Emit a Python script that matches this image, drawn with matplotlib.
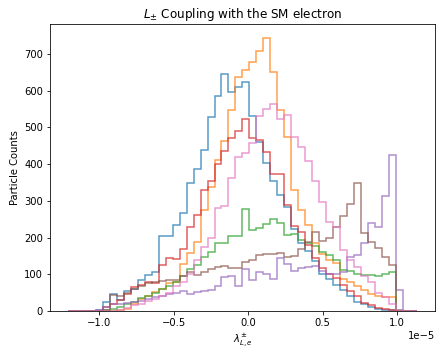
import numpy as np
import matplotlib
matplotlib.use('Agg')
import matplotlib.pyplot as plt

# bin edges of the shared histogram (units of coupling)
bin_lo = -1.2134e-5
bin_hi = 1.1356e-5
n_bins = 50

# counts per bin for each coupling sample
blue = [0, 0, 0, 0, 2, 25, 45, 30, 55, 60, 85, 98, 105, 203, 203, 234, 268, 348, 386, 439,
        528, 584, 644, 596, 609, 624, 532, 460, 403, 353, 316, 282, 224, 186, 162, 137, 100, 87, 70, 56,
        42, 25, 20, 12, 6, 2, 2, 1, 0, 0]
orange = [0, 0, 0, 0, 0, 0, 0, 3, 5, 19, 32, 42, 53, 59, 75, 78, 128, 159, 189, 274,
          337, 412, 462, 546, 637, 657, 677, 707, 744, 650, 548, 474, 330, 275, 235, 185, 155, 140, 130, 88,
          80, 68, 58, 45, 40, 38, 38, 0, 0, 0]
green = [0, 0, 0, 0, 0, 2, 5, 10, 20, 25, 35, 40, 50, 60, 68, 80, 95, 115, 125, 148,
         160, 184, 184, 205, 205, 277, 221, 225, 237, 251, 240, 207, 210, 192, 185, 176, 160, 152, 140, 112,
         108, 101, 98, 98, 95, 101, 107, 3, 0, 0]
red = [0, 0, 0, 0, 0, 10, 20, 30, 46, 66, 70, 80, 76, 125, 143, 142, 170, 228, 262, 330,
       355, 400, 435, 470, 490, 523, 470, 465, 432, 372, 372, 289, 232, 216, 180, 145, 118, 100, 90, 72,
       55, 40, 22, 16, 8, 5, 3, 1, 0, 0]
purple = [0, 0, 0, 0, 3, 12, 18, 20, 22, 25, 28, 33, 38, 42, 45, 48, 55, 45, 52, 55,
          58, 68, 92, 95, 68, 115, 85, 105, 102, 88, 145, 128, 110, 118, 120, 122, 110, 100, 100, 105,
          147, 152, 184, 239, 228, 312, 424, 57, 1, 1]
brown = [1, 1, 0, 0, 0, 4, 44, 41, 48, 59, 68, 75, 80, 82, 84, 84, 95, 107, 98, 107,
         114, 121, 123, 116, 116, 134, 140, 152, 155, 155, 159, 146, 150, 168, 189, 214, 190, 200, 228, 259,
         290, 348, 213, 189, 171, 148, 125, 0, 0, 0]
pink = [0, 0, 0, 0, 0, 0, 0, 3, 8, 15, 20, 28, 33, 40, 49, 67, 80, 100, 140, 175,
        200, 280, 285, 362, 420, 430, 456, 532, 549, 564, 523, 534, 474, 446, 407, 353, 296, 243, 228, 165,
        140, 120, 95, 80, 50, 38, 18, 4, 0, 0]

series = [blue, orange, green, red, purple, brown, pink]
colors = ['C0', 'C1', 'C2', 'C3', 'C4', 'C5', 'C6']

edges = np.linspace(bin_lo, bin_hi, n_bins + 1)

fig = plt.figure(figsize=(443 / 72, 356 / 72), dpi=72)
ax = fig.add_axes([0.1129, 0.1264, 0.869, 0.8062])

for counts, c in zip(series, colors):
    ax.stairs(counts, edges, color=c, alpha=0.75, linewidth=1.5, baseline=0)

span = bin_hi - bin_lo
ax.set_xlim(bin_lo - 0.05 * span, bin_hi + 0.05 * span)
ymax = max(max(s) for s in series)
ax.set_ylim(0, ymax * 1.05)

ax.set_title(r'$L_{\pm}$ Coupling with the SM electron')
ax.set_xlabel(r'$\lambda^{\pm}_{L,e}$')
ax.set_ylabel('Particle Counts')

fig.savefig('out.png', dpi=72)
